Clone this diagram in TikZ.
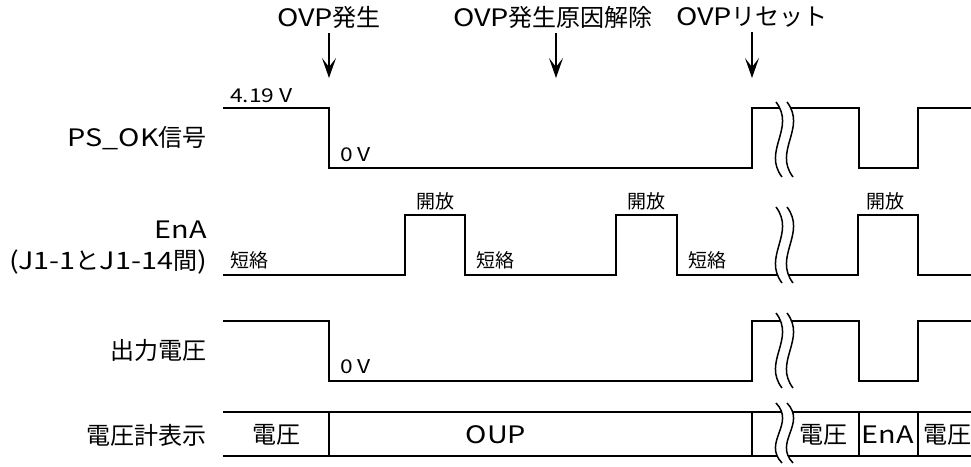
\documentclass[tikz,border=0pt]{standalone}
\usepackage{fontspec}
\setmainfont{Noto Sans CJK JP}
\newfontfamily\lat[FakeStretch=1.2]{Noto Sans CJK JP}
\usetikzlibrary{arrows.meta}

% two wavy strokes that cut a trace (x, top, bottom)
\newcommand{\cutmark}[3]{%
  \fill[white] (#1,#2) .. controls ({#1+20},{#2+0.35*(#3-#2)}) and ({#1-14},{#2+0.65*(#3-#2)}) .. ({#1+6},#3)
    -- ({#1+17},#3) .. controls ({#1-3},{#2+0.65*(#3-#2)}) and ({#1+31},{#2+0.35*(#3-#2)}) .. ({#1+11},#2) -- cycle;
  \foreach \dx in {0,11}
    \draw[wave] ({#1+\dx},#2) .. controls ({#1+\dx+20},{#2+0.35*(#3-#2)}) and ({#1+\dx-14},{#2+0.65*(#3-#2)}) .. ({#1+\dx+6},#3);
}

\begin{document}
\begin{tikzpicture}[x=1pt, y=-1pt,
  big/.style={font=\fontsize{24}{28}\selectfont, inner sep=0pt},
  small/.style={font=\fontsize{19}{22}\selectfont, inner sep=0pt},
  sig/.style={line width=1.8pt, line join=miter},
  wave/.style={line width=1.5pt},
  marker/.style={-{Stealth[length=20pt, width=14pt, inset=9pt]}, line width=1.5pt, shorten <=5pt}
]
  \useasboundingbox (0,0) rectangle (971,466);

  % events
  \node[big] (ovp) at (329,17) {{\lat OVP}発生};
  \node[big] (clear) at (553,17) {{\lat OVP}発生原因解除};
  \node[big] (reset) at (752,17) {{\lat OVP}リセット};
  \coordinate (ovptip) at (329,78);
  \coordinate (cleartip) at (556,78);
  \coordinate (resettip) at (752,78);
  \draw[marker] (ovp.south) -- (ovptip);
  \draw[marker] (clear.south -| cleartip) -- (cleartip);
  \draw[marker] (reset.south) -- (resettip);

  % row names
  \node[big, anchor=east] (psok) at (207,138) {{\lat PS\_OK}信号};
  \node[big, anchor=east] (ena) at (207,230) {\lat EnA};
  \node[big, anchor=east] (enaj) at (207,262) {{\lat (J1-1}と{\lat J1-14}間{\lat )}};
  \node[big, anchor=east] (vout) at (207,350) {出力電圧};
  \node[big, anchor=east] (meter) at (207,435) {電圧計表示};

  % PS_OK
  \draw[sig] (223,108) -- (329,108) -- (329,168) -- (752,168) -- (752,108) -- (859,108)
    -- (859,168) -- (918,168) -- (918,108) -- (971,108);
  \node[small, anchor=west] (hi) at (230,96) {\lat 4.19 V};
  \node[small, anchor=west] (lo) at (340,155) {\lat 0 V};

  % EnA
  \draw[sig] (223,275) -- (405,275) -- (405,215) -- (465,215) -- (465,275) -- (616,275)
    -- (616,215) -- (677,215) -- (677,275) -- (858,275) -- (858,215) -- (918,215)
    -- (918,275) -- (971,275);
  \node[small, anchor=west] (s1) at (230,260) {短絡};
  \node[small, anchor=west] (s2) at (476,260) {短絡};
  \node[small, anchor=west] (s3) at (688,260) {短絡};
  \node[small] (o1) at (435,201) {開放};
  \node[small] (o2) at (646,201) {開放};
  \node[small] (o3) at (885,201) {開放};

  % output voltage
  \draw[sig] (223,321) -- (329,321) -- (329,381) -- (752,381) -- (752,321) -- (859,321)
    -- (859,381) -- (918,381) -- (918,321) -- (971,321);
  \node[small, anchor=west] (vlo) at (340,367) {\lat 0 V};

  % meter display
  \draw[sig] (223,412) -- (971,412);
  \draw[sig] (223,456) -- (971,456);
  \foreach \xd in {329,752,859,918}
    \draw[sig] (\xd,412) -- (\xd,456);
  \node[big] (m1) at (276,435) {電圧};
  \node[big] (m2) at (496,435) {\lat OUP};
  \node[big] (m3) at (823,435) {電圧};
  \node[big] (m4) at (888,435) {\lat EnA};
  \node[big] (m5) at (947,435) {電圧};

  % breaks
  \cutmark{776}{102}{177}
  \cutmark{776}{207}{283}
  \cutmark{776}{313}{388}
  \cutmark{776}{403}{463}
\end{tikzpicture}
\end{document}
